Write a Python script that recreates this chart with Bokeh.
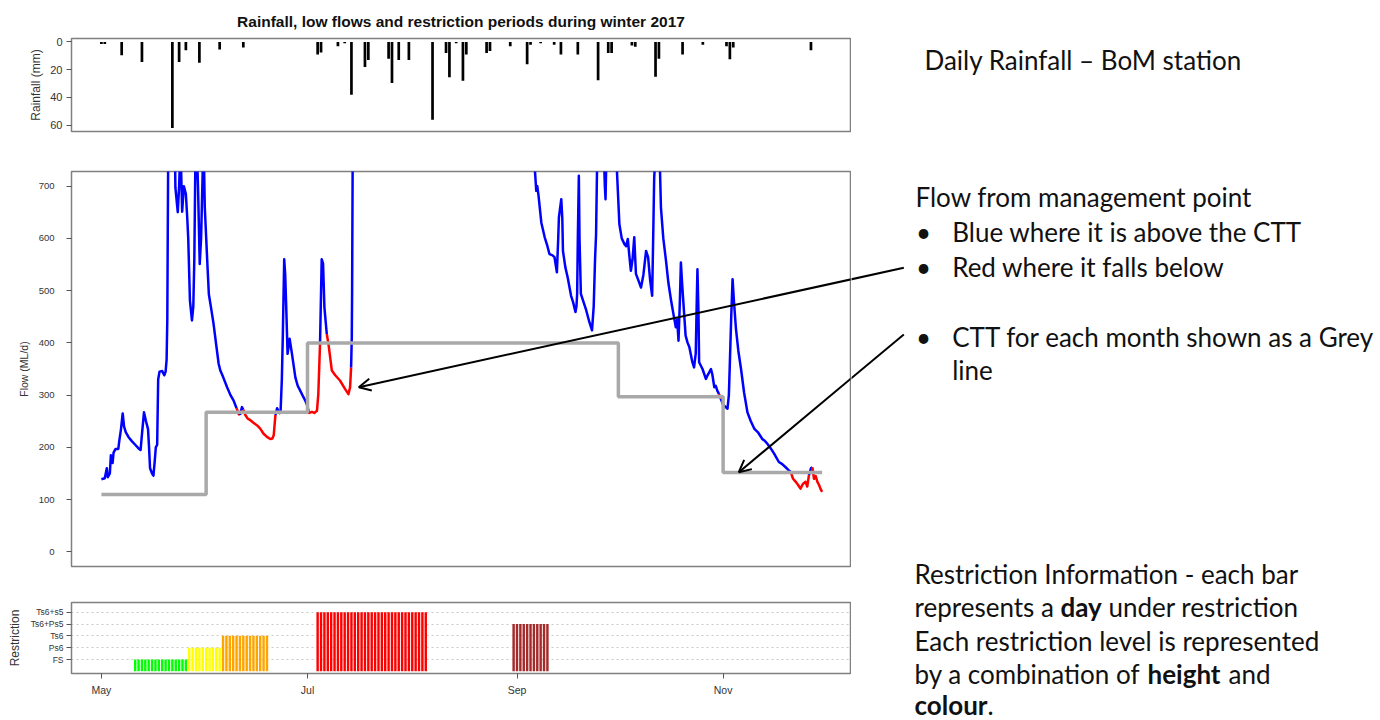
from bokeh.plotting import figure
from bokeh.layouts import column, row
from bokeh.models import Range1d, FixedTicker, Label, Arrow, OpenHead
from bokeh.embed import file_html
from bokeh.resources import INLINE

# ---------------- data ----------------
month_tick_day = [0, 61, 123, 184]          # days since 1 May 2017
month_tick_label = ["May", "Jul", "Sep", "Nov"]

rain_day = [0, 1, 6, 12, 21, 23, 25, 29, 35, 42, 64, 65, 70, 72, 74, 78, 79, 85, 86, 88,
            91, 98, 102, 103, 105, 107, 108, 114, 115, 121, 126, 127, 130, 134, 136, 141, 147, 150, 151, 157,
            158, 164, 165, 172, 178, 185, 186, 187, 210]
rain_mm = [1.5, 1.5, 9.5, 14.5, 62, 14.5, 6, 15, 5.5, 4, 9, 7.5, 3, 1, 38, 18, 13, 12, 29.5, 13,
           13, 56, 8, 25.5, 1, 28, 9, 8, 6.5, 3, 16, 2, 1, 2, 9, 9, 27.5, 8, 8, 2.5,
           3.5, 25, 12, 9, 2, 3, 12.5, 4, 6]

flow_day = [0.0, 1.0, 1.6, 1.9, 2.5, 2.8, 3.3, 3.6, 4.2, 5.0, 5.3, 5.8, 6.3, 6.7, 7.2, 8.0, 9.0, 10.0, 11.0, 11.6,
            12.0, 12.6, 13.2, 13.8, 14.1, 14.4, 15.0, 15.4, 15.8, 16.1, 16.5, 16.8, 17.2, 18.0, 18.6, 19.0, 19.3, 19.5, 19.8, 20.5,
            21.5, 21.9, 22.6, 23.0, 23.4, 23.9, 24.4, 25.0, 25.4, 25.7, 26.2, 26.8, 27.2, 27.5, 27.9, 28.3, 28.6, 29.1, 29.5, 29.8,
            30.1, 30.4, 30.6, 31.3, 31.8, 32.5, 33.2, 34.0, 34.7, 35.2, 36.0, 37.2, 38.2, 39.1, 40.0, 40.6, 41.0, 41.6, 42.0, 42.6,
            43.3, 44.1, 45.0, 46.1, 47.0, 48.0, 49.0, 50.0, 50.6, 51.0, 51.5, 52.0, 52.5, 53.0, 53.4, 53.7, 54.1, 54.4, 54.7, 55.1,
            55.7, 56.4, 57.4, 58.1, 58.8, 59.8, 60.3, 60.8, 61.5, 62.3, 63.0, 63.8, 64.2, 64.7, 65.2, 65.6, 66.0, 66.7, 67.2, 68.2,
            69.2, 70.6, 72.1, 73.1, 73.6, 73.9, 74.1, 74.2, 74.4, 75.5, 80.0, 85.0, 90.0, 95.0, 100.0, 105.0, 110.0, 115.0, 120.0, 125.0,
            128.2, 128.7, 129.0, 129.4, 130.2, 131.2, 132.0, 132.6, 133.4, 134.1, 134.8, 135.2, 135.4, 136.1, 136.4, 136.6, 137.3, 138.0, 139.0, 139.6,
            140.3, 140.6, 140.8, 141.0, 141.3, 141.5, 141.9, 142.7, 143.5, 144.4, 145.2, 145.7, 146.1, 146.4, 146.7, 147.5, 148.5, 149.0, 149.2, 149.4,
            150.5, 151.5, 152.5, 153.3, 154.0, 154.8, 155.3, 155.8, 156.2, 156.7, 157.2, 157.7, 158.2, 158.9, 159.7, 160.4, 161.2, 161.8, 162.4, 163.0,
            163.3, 163.6, 164.0, 164.6, 165.2, 165.6, 166.3, 167.1, 167.8, 168.6, 169.3, 170.0, 170.4, 170.8, 171.2, 171.5, 171.8, 172.2, 172.9, 173.5,
            174.0, 174.9, 175.4, 175.9, 176.2, 176.4, 176.7, 176.9, 177.9, 178.9, 179.4, 180.0, 180.4, 180.8, 181.4, 181.8, 182.3, 182.8, 183.3, 184.0,
            184.3, 185.3, 185.7, 186.0, 186.4, 186.8, 187.2, 187.8, 188.5, 189.3, 190.2, 191.2, 192.2, 193.2, 194.4, 195.6, 196.4, 197.1, 198.1, 199.1,
            199.8, 200.5, 201.5, 202.5, 203.3, 204.0, 204.7, 205.5, 206.2, 206.9, 207.6, 208.4, 208.9, 209.4, 210.0, 210.4, 210.9, 211.4, 211.9, 212.4,
            212.8, 213.3]
flow_mld = [139, 141, 160, 143, 150, 185, 170, 190, 197, 197, 213, 235, 265, 240, 229, 220, 212, 205, 198, 195,
            225, 267, 250, 235, 200, 160, 150, 146, 175, 200, 205, 330, 345, 346, 338, 345, 368, 443, 800, 1200,
            900, 697, 650, 700, 780, 651, 700, 685, 640, 600, 481, 443, 470, 560, 800, 760, 697, 551, 600, 680,
            760, 730, 659, 560, 493, 465, 436, 395, 360, 347, 335, 315, 300, 290, 275, 264, 262, 277, 272, 262,
            255, 252, 247, 242, 236, 226, 220, 216, 217, 223, 262, 275, 268, 264, 330, 417, 560, 530, 468, 379,
            408, 379, 334, 318, 309, 296, 290, 282, 266, 268, 266, 270, 302, 398, 560, 552, 468, 417, 398, 347,
            338, 328, 312, 302, 315, 353, 411, 500, 800, 1500, 1100, 1300, 1000, 1400, 1100, 1000, 950, 900, 850, 800,
            740, 691, 700, 680, 630, 602, 585, 570, 568, 564, 535, 600, 640, 675, 640, 576, 545, 525, 490, 478,
            459, 470, 494, 600, 720, 600, 494, 478, 462, 440, 424, 470, 560, 608, 740, 900, 800, 700, 675, 740,
            950, 850, 740, 627, 600, 589, 585, 599, 570, 538, 560, 602, 532, 520, 506, 530, 576, 564, 520, 490,
            600, 716, 760, 900, 760, 659, 600, 557, 515, 481, 455, 430, 445, 404, 480, 554, 520, 481, 414, 400,
            392, 363, 353, 380, 480, 541, 460, 363, 350, 331, 338, 345, 350, 340, 315, 318, 308, 302, 293, 282,
            280, 274, 300, 363, 450, 522, 480, 427, 385, 350, 305, 267, 250, 236, 228, 216, 212, 207, 198, 188,
            180, 172, 168, 162, 157, 153, 140, 134, 128, 121, 130, 134, 125, 147, 160, 162, 140, 145, 134, 128,
            121, 115]

ctt_start_day = [0, 31, 61, 92, 123, 153, 184]
ctt_mld = [110, 267, 400, 400, 400, 297, 152]

restr_class = ["FS", "Ps6", "Ts6", "Ts6+Ps5", "Ts6+s5"]
restr_level = [1, 2, 3, 4, 5]
restr_days = [
    [10, 11, 12, 13, 14, 15, 16, 17, 18, 19, 20, 21, 22, 23, 24, 25],
    [26, 27, 28, 29, 30, 31, 32, 33, 34, 35],
    [36, 37, 38, 39, 40, 41, 42, 43, 44, 45, 46, 47, 48, 49],
    [122, 123, 124, 125, 126, 127, 128, 129, 130, 131, 132],
    [64, 65, 66, 67, 68, 69, 70, 71, 72, 73, 74, 75, 76, 77, 78, 79, 80,
     81, 82, 83, 84, 85, 86, 87, 88, 89, 90, 91, 92, 93, 94, 95, 96],
]
restr_color = ["#00ff00", "#ffff00", "#ffa500", "#a52a2a", "#ff0000"]

# ---------------- geometry (screen pixels) ----------------
TOTAL_W, TOTAL_H = 1379, 719
FL, FW = 71, 779                 # frame left / width of the three chart panels
FIG_W = FL + FW + 1
TXT_W = TOTAL_W - FIG_W
XR = (-8.85, 221.7)
PXD = FW / (XR[1] - XR[0])
AX_FONT = "Liberation Sans"
TXT_FONT = "Lato"
TXT_SIZE = "26px"
TXT_COLOR = "#111111"


def xd(sx):
    return XR[0] + (sx - FL) / PXD


def make_yd(fig_top, frame_top, frame_h, v_bottom, v_top):
    def yd(sy):
        return v_top + ((sy - fig_top) - frame_top) * (v_bottom - v_top) / frame_h
    return yd


def make_fig(height, top, bottom, yr, title=None, xaxis=False):
    kw = dict(width=FIG_W, height=height, x_range=Range1d(*XR), y_range=yr,
              output_backend="svg", toolbar_location=None,
              min_border_left=FL, min_border_right=1,
              min_border_top=top, min_border_bottom=bottom)
    if not xaxis:
        kw["x_axis_location"] = None
    if title:
        kw["title"] = title
    p = figure(**kw)
    p.outline_line_color = "#808080"
    p.outline_line_width = 1.5
    p.xgrid.visible = False
    p.ygrid.visible = False
    return p


def style_axis(ax, ticks, tick_size, label, label_size, standoff, label_standoff, overrides=None):
    ax.ticker = FixedTicker(ticks=ticks)
    ax.axis_line_color = None
    ax.major_tick_in = 0
    ax.major_tick_out = 5
    ax.major_tick_line_color = "#555555"
    ax.minor_tick_line_color = None
    ax.major_label_text_font = AX_FONT
    ax.major_label_text_font_size = tick_size
    ax.major_label_text_color = "#333333"
    ax.major_label_standoff = standoff
    if overrides:
        ax.major_label_overrides = overrides
    if label is not None:
        ax.axis_label = label
        ax.axis_label_text_font = AX_FONT
        ax.axis_label_text_font_size = label_size
        ax.axis_label_text_font_style = "normal"
        ax.axis_label_text_color = "#333333"
        ax.axis_label_standoff = label_standoff


# ---------------- rainfall panel ----------------
RAIN_H, RAIN_T, RAIN_F = 150, 38, 93
p_rain = make_fig(RAIN_H, RAIN_T, RAIN_H - RAIN_T - RAIN_F, Range1d(64.5, -2.5),
                  title="Rainfall, low flows and restriction periods during winter 2017")
p_rain.title.align = "center"
p_rain.title.text_font = AX_FONT
p_rain.title.text_font_size = "15.5px"
p_rain.title.text_font_style = "bold"
p_rain.title.text_color = "#111111"
p_rain.title.standoff = 18
style_axis(p_rain.yaxis[0], [0, 20, 40, 60], "11px", "Rainfall (mm)", "12px", 4, 4)
p_rain.vbar(x=rain_day, top=rain_mm, bottom=0, width=0.8, fill_color="black", line_color=None)

# ---------------- flow panel ----------------
FLOW_Y0 = RAIN_H
FLOW_H, FLOW_T, FLOW_F = 434, 21, 395
p_flow = make_fig(FLOW_H, FLOW_T, FLOW_H - FLOW_T - FLOW_F, Range1d(-28, 728))
style_axis(p_flow.yaxis[0], [0, 100, 200, 300, 400, 500, 600, 700], "9.5px", "Flow (ML/d)", "10.5px", 12, 6)


def ctt_at(d):
    v = ctt_mld[0]
    for s, c in zip(ctt_start_day, ctt_mld):
        if d >= s:
            v = c
    return v


below = [f < ctt_at(d) for d, f in zip(flow_day, flow_mld)]
xs, ys, cols = [], [], []
cx_, cy_ = [flow_day[0]], [flow_mld[0]]
state = below[0]
for i in range(1, len(flow_day)):
    if below[i] != state:
        xs.append(cx_); ys.append(cy_); cols.append("#ff0000" if state else "#0000ff")
        cx_, cy_ = [flow_day[i - 1]], [flow_mld[i - 1]]
        state = below[i]
    cx_.append(flow_day[i]); cy_.append(flow_mld[i])
xs.append(cx_); ys.append(cy_); cols.append("#ff0000" if state else "#0000ff")
p_flow.multi_line(xs=xs, ys=ys, line_color=cols, line_width=2.5, line_join="round")

step_x = ctt_start_day + [flow_day[-1]]
step_y = ctt_mld + [ctt_mld[-1]]
p_flow.step(x=step_x, y=step_y, mode="after", line_color="#a9a9a9", line_width=3.5)

yd_flow = make_yd(FLOW_Y0, FLOW_T, FLOW_F, -28, 728)

# callout arrows (screen pixels: start at the text, tip on the chart)
arrows_px = [(903.3, 267.3, 358.3, 386.7), (903.3, 334.0, 738.3, 471.7)]
for (sx, sy, ex, ey) in arrows_px:
    p_flow.add_layout(Arrow(end=OpenHead(size=12, line_width=2, line_color="black"),
                            x_start=xd(sx), y_start=yd_flow(sy), x_end=xd(ex), y_end=yd_flow(ey),
                            line_width=2, line_color="black"))

# ---------------- restriction panel ----------------
RES_Y0 = RAIN_H + FLOW_H
RES_H, RES_T, RES_F = TOTAL_H - RES_Y0, 18, 71
p_res = make_fig(RES_H, RES_T, RES_H - RES_T - RES_F, Range1d(-0.18, 5.82), xaxis=True)
style_axis(p_res.yaxis[0], restr_level, "8.5px", "Restriction", "12px", 3, 6,
           overrides={lv: nm for lv, nm in zip(restr_level, restr_class)})
style_axis(p_res.xaxis[0], month_tick_day, "10.5px", None, None, 5, 0,
           overrides={d: m for d, m in zip(month_tick_day, month_tick_label)})
p_res.ygrid.visible = True
p_res.ygrid.ticker = FixedTicker(ticks=restr_level)
p_res.ygrid.grid_line_color = "#c8c8c8"
p_res.ygrid.grid_line_dash = "2 3"
p_res.ygrid.grid_line_width = 1
for days, lv, col in zip(restr_days, restr_level, restr_color):
    p_res.vbar(x=days, top=[lv] * len(days), bottom=0, width=0.72, fill_color=col, line_color=None)

# ---------------- text panel (right) ----------------
p_txt = figure(width=TXT_W, height=TOTAL_H, x_range=Range1d(FIG_W, TOTAL_W), y_range=Range1d(TOTAL_H, 0),
               x_axis_location=None, y_axis_location=None, output_backend="svg", toolbar_location=None,
               min_border=0)
p_txt.outline_line_color = None
p_txt.grid.visible = False


def add_text(sx, sy, txt, bold=False, align="left"):
    p_txt.add_layout(Label(x=sx, y=sy, text=txt, text_font=TXT_FONT, text_font_size=TXT_SIZE,
                           text_font_style="bold" if bold else "normal", text_align=align,
                           text_baseline="middle", text_color=TXT_COLOR))


add_text(924, 59, "Daily Rainfall \u2013 BoM station")
add_text(915, 196, "Flow from management point")
for yy, txt in [(231, "Blue where it is above the CTT"), (266, "Red where it falls below"),
                (336, "CTT for each month shown as a Grey")]:
    add_text(923, yy, "\u2022", align="center")
    add_text(951.7, yy, txt)
add_text(951.7, 369, "line")
add_text(914, 573, "Restriction Information - each bar")
add_text(914, 606.5, "represents a")
add_text(1060, 606.5, "day", bold=True)
add_text(1108, 606.5, "under restriction")
add_text(914, 640, "Each restriction level is represented")
add_text(914, 673, "by a combination of")
add_text(1147, 673, "height", bold=True)
add_text(1228, 673, "and")
add_text(914, 704, "colour", bold=True)
add_text(987, 704, ".")

# arrow bodies where they cross the text panel
for (sx, sy, ex, ey) in arrows_px:
    p_txt.add_layout(Arrow(end=None, x_start=sx, y_start=sy, x_end=ex, y_end=ey,
                           line_width=2, line_color="black"))

layout = row(column(p_rain, p_flow, p_res, spacing=0), p_txt, spacing=0)
open("out.html", "w").write(file_html(layout, INLINE, "Rainfall, low flows and restriction periods"))
